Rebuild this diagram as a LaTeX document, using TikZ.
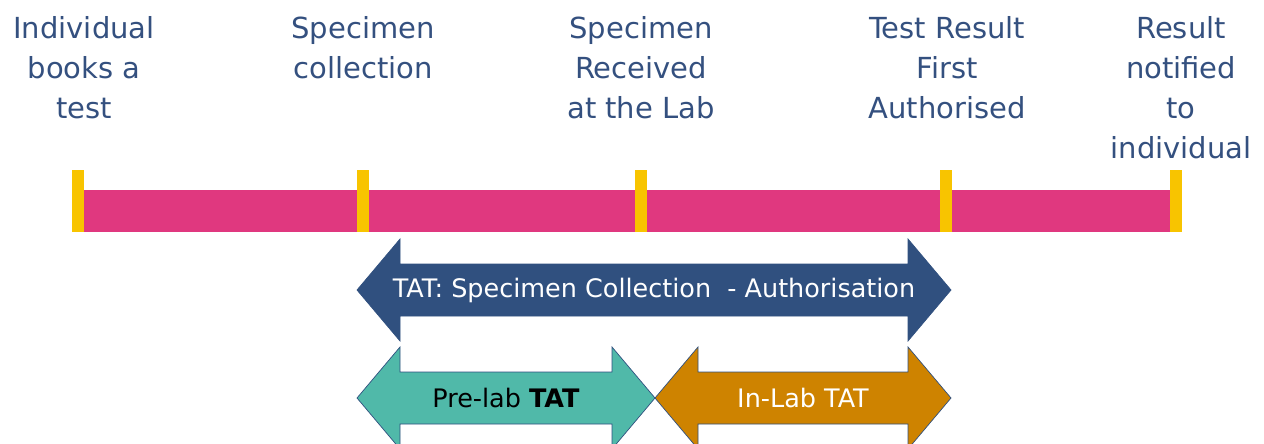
\documentclass[tikz,border=0pt]{standalone}
\usepackage{fontspec}
\setmainfont{DejaVu Sans}
\usepackage{xcolor}
\usetikzlibrary{positioning}

\definecolor{barpink}{HTML}{E0387F}
\definecolor{tickyellow}{HTML}{F8C400}
\definecolor{labelblue}{HTML}{34507F}
\definecolor{tatblue}{HTML}{30507F}
\definecolor{prelab}{HTML}{50B9A9}
\definecolor{inlab}{HTML}{CE8300}

\tikzset{
  tick/.style={fill=tickyellow, draw=none, minimum width=0.24cm, minimum height=1.24cm, inner sep=0pt},
  milestone/.style={anchor=north, align=center, text=labelblue, inner sep=0pt,
    font=\fontsize{16.5}{22.7}\selectfont},
  tatlabel/.style={font=\fontsize{14.5}{17}\selectfont, inner sep=0pt}
}

% double headed arrow: left x, right x, mid y, colour
\newcommand{\tatarrow}[4]{
  \filldraw[fill=#4, draw=tatblue, line width=0.4pt]
    (#1,#3) -- (#1+43,#3-51) -- (#1+43,#3-26) -- (#2-43,#3-26) -- (#2-43,#3-51)
    -- (#2,#3) -- (#2-43,#3+51) -- (#2-43,#3+26) -- (#1+43,#3+26) -- (#1+43,#3+51) -- cycle;
}

\begin{document}
\begin{tikzpicture}[x=0.02cm, y=-0.02cm]
\useasboundingbox (0,0) rectangle (1264,443);

% timeline
\fill[barpink] (78,190) rectangle (1176,232);

\node[tick] (t1) at (78,201) {};
\node[tick] (t2) at (363,201) {};
\node[tick] (t3) at (641,201) {};
\node[tick] (t4) at (946,201) {};
\node[tick] (t5) at (1176,201) {};

\node[milestone] (m1) at (84,16) {Individual\\books a\\test};
\node[milestone] (m2) at (363,16) {Specimen\\collection};
\node[milestone] (m3) at (641,16) {Specimen\\Received\\at the Lab};
\node[milestone] (m4) at (947,16) {Test Result\\First\\Authorised};
\node[milestone] (m5) at (1181,16) {Result\\notified\\to\\individual};

% turnaround times
\tatarrow{357}{951}{290}{tatblue}
\tatarrow{357}{655}{398}{prelab}
\tatarrow{655}{951}{398}{inlab}

\node[tatlabel, text=white] (total) at (654,290) {TAT: Specimen Collection\ \ - Authorisation};
\node[tatlabel, text=black] (pre) at (506,398) {Pre-lab \textbf{TAT}};
\node[tatlabel, text=white] (in) at (803,398) {In-Lab TAT};
\end{tikzpicture}
\end{document}
